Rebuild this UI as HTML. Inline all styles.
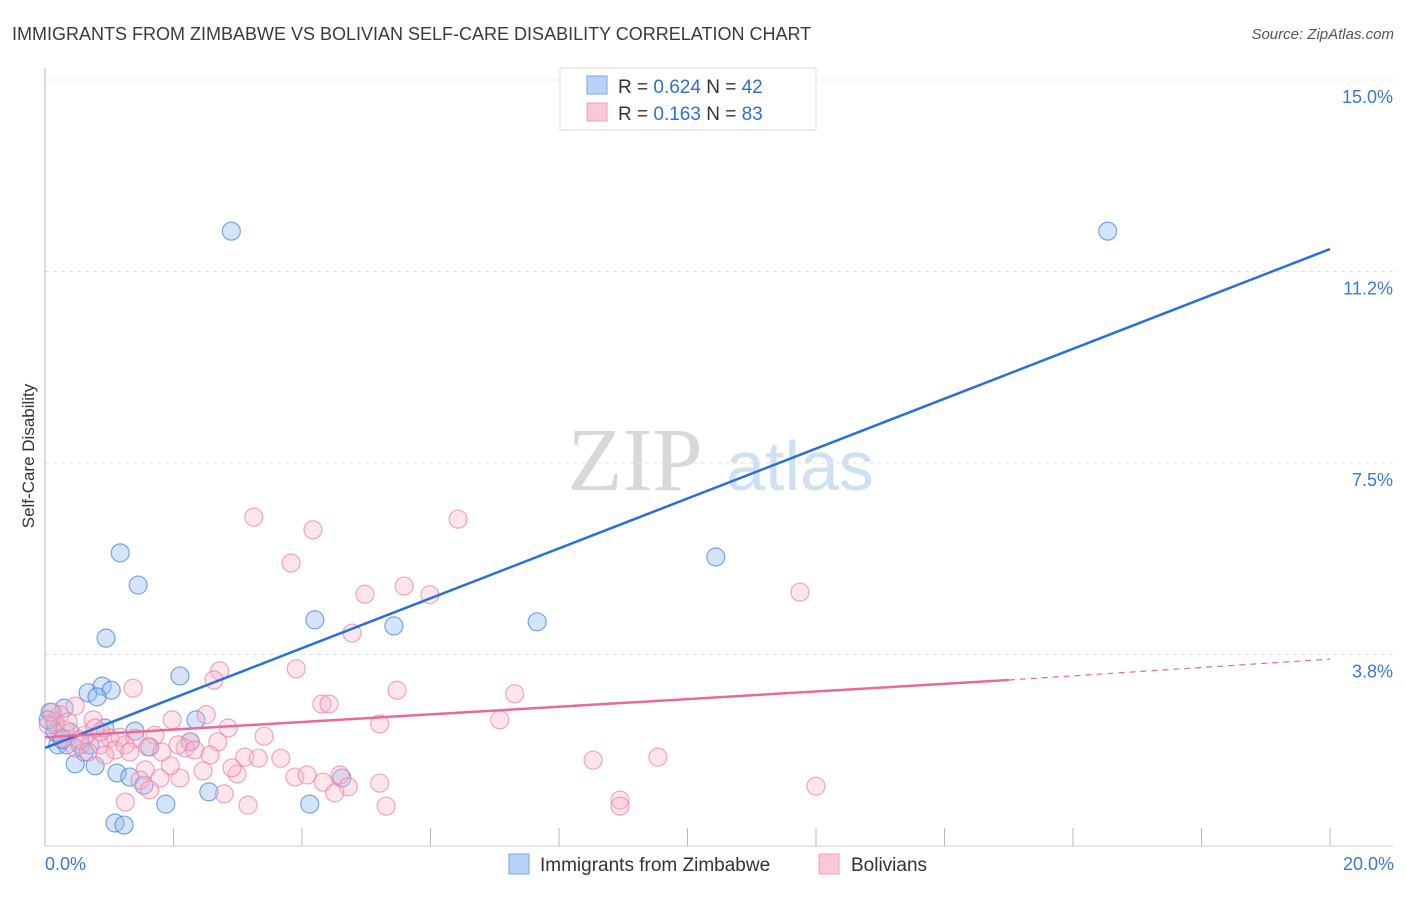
<!DOCTYPE html>
<html><head><meta charset="utf-8"><style>
body{margin:0;background:#fff;font-family:"Liberation Sans",sans-serif}
</style></head><body>
<svg width="1406" height="892" xmlns="http://www.w3.org/2000/svg" font-family="Liberation Sans, sans-serif">
<text x="12" y="40" font-size="18" fill="#3a3a3a">IMMIGRANTS FROM ZIMBABWE VS BOLIVIAN SELF-CARE DISABILITY CORRELATION CHART</text>
<text x="1394" y="39" font-size="15" fill="#555" text-anchor="end" font-style="italic">Source: ZipAtlas.com</text>
<g><text x="635" y="490" font-size="90" fill="#d8d8d8" font-family="Liberation Serif, serif" text-anchor="middle">ZIP</text><text x="800" y="490" font-size="70" fill="#cfe0f3" text-anchor="middle">atlas</text></g>
<g id="grid"></g><g id="axes"></g><g id="marks"></g>
<text transform="translate(34,456) rotate(-90)" font-size="17" fill="#333" text-anchor="middle">Self-Care Disability</text>
<g>
<rect x="560" y="68" width="256" height="62" fill="#fff" stroke="#ddd"/>
<rect x="587" y="76" width="20" height="18" fill="#b8d3f7" stroke="#7aa6e6"/>
<rect x="587" y="103" width="20" height="18" fill="#fbc8d8" stroke="#f0a0b8"/>
<text x="618" y="93" font-size="19" fill="#333">R = <tspan fill="#2f6fd6">0.624</tspan>   N = <tspan fill="#2f6fd6">42</tspan></text>
<text x="618" y="120" font-size="19" fill="#333">R =  <tspan fill="#2f6fd6">0.163</tspan>   N = <tspan fill="#2f6fd6">83</tspan></text>
</g>
<g>
<rect x="509" y="854" width="20" height="20" fill="#b8d3f7" stroke="#7aa6e6"/>
<text x="540" y="871" font-size="19" fill="#333">Immigrants from Zimbabwe</text>
<rect x="819" y="854" width="20" height="20" fill="#fbc8d8" stroke="#f0a0b8"/>
<text x="851" y="871" font-size="19" fill="#333">Bolivians</text>
</g>
</svg>
<script>
const xTicks=[0,2,4,6,8,10,12,14,16,18,20];
const yTicks=[3.75,7.5,11.25,15];
const yTickLabels=["3.8%","7.5%","11.2%","15.0%"];
const blueX=[2.90,16.54,1.17,1.45,10.44,0.95,4.20,5.43,7.66,2.10,0.67,0.89,1.03,0.81,0.30,0.08,0.16,0.39,0.93,1.40,2.35,1.63,2.26,0.20,0.34,0.55,0.61,0.47,0.78,1.12,1.32,1.54,1.88,2.55,4.12,4.62,1.09,1.23,0.16,0.05,0.27,0.70];
const blueY=[12.04,12.04,5.74,5.11,5.66,4.07,4.43,4.31,4.39,3.33,3.00,3.13,3.05,2.92,2.70,2.62,2.37,2.23,2.31,2.25,2.47,1.94,2.04,1.98,1.98,1.98,1.84,1.61,1.57,1.43,1.35,1.19,0.82,1.06,0.82,1.33,0.45,0.41,2.23,2.47,2.08,1.98];
const pinkX=[3.25,4.17,6.43,3.83,5.59,4.98,5.99,11.75,4.78,2.72,2.63,3.91,1.37,7.31,5.48,4.31,4.42,2.51,1.98,2.85,5.21,7.08,0.47,0.75,0.23,0.16,0.31,0.62,1.01,1.17,1.40,1.71,2.26,2.69,3.41,0.86,1.09,1.60,1.82,2.18,2.33,2.57,3.11,3.32,3.67,0.47,0.67,1.25,1.56,1.79,2.10,2.46,2.99,3.89,4.08,4.33,4.59,4.72,4.51,5.21,8.53,9.54,1.25,2.79,3.16,5.31,8.95,8.95,12.00,0.11,0.05,0.36,0.86,1.32,2.07,2.91,1.95,1.48,0.28,0.54,0.93,1.63,0.78];
const pinkY=[6.44,6.19,6.40,5.54,5.09,4.93,4.92,4.97,4.17,3.43,3.25,3.47,3.09,2.98,3.05,2.78,2.78,2.57,2.47,2.31,2.39,2.47,2.74,2.47,2.57,2.43,2.27,2.17,2.11,2.13,2.11,2.17,2.04,2.04,2.15,1.98,1.88,1.94,1.84,1.92,1.88,1.78,1.74,1.72,1.72,1.92,1.84,1.98,1.49,1.33,1.33,1.47,1.41,1.35,1.39,1.25,1.39,1.16,1.04,1.23,1.68,1.74,0.86,1.02,0.80,0.78,0.90,0.78,1.17,2.62,2.37,2.43,2.23,1.84,1.98,1.53,1.57,1.29,2.11,2.08,1.78,1.10,2.31];
const blueLine=[[0,1.92],[20,11.69]];
const pinkSolid=[[0,2.13],[15,3.25]];
const pinkDash=[[15,3.25],[20,3.66]];
const NS="http://www.w3.org/2000/svg";
const sx=v=>45+v/20*1285, sy=v=>846-v/3.75*191.5;
function mk(t,a,p){const e=document.createElementNS(NS,t);for(const k in a)e.setAttribute(k,a[k]);p.appendChild(e);return e;}
const grid=document.getElementById('grid'),axes=document.getElementById('axes'),marks=document.getElementById('marks');
yTicks.forEach((t,i)=>{const l=mk('line',{x1:45,x2:1393,y1:sy(t),y2:sy(t),stroke:'#e2e2e2','stroke-dasharray':'4,4'},grid);


const tx=mk('text',{x:1393,y:sy(t)+23,'font-size':18,fill:'#3a78d4','text-anchor':'end'},axes);tx.textContent=yTickLabels[i];

});
const ax=mk('line',{x1:45,x2:45,y1:68,y2:846,stroke:'#bbb'},axes);


const bx=mk('line',{x1:45,x2:1393,y1:846,y2:846,stroke:'#ccc'},axes);


xTicks.forEach(t=>{const l=mk('line',{x1:sx(t),x2:sx(t),y1:828,y2:846,stroke:'#bbb'},axes);

});
[[0,"0.0%","start",45],[20,"20.0%","end",1394]].forEach(d=>{const tx=mk('text',{x:d[3],y:870,'font-size':18,fill:'#3a78d4','text-anchor':d[2]},axes);tx.textContent=d[1];

});
blueX.forEach((v,i)=>{const c=mk('circle',{cx:sx(v),cy:sy(blueY[i]),r:9,fill:'rgba(150,190,240,0.4)',stroke:'rgba(70,130,220,0.7)','stroke-width':1.2},marks);

});
pinkX.forEach((v,i)=>{const c=mk('circle',{cx:sx(v),cy:sy(pinkY[i]),r:9,fill:'rgba(248,180,200,0.35)',stroke:'rgba(235,130,165,0.7)','stroke-width':1.2},marks);

});
const bl=mk('line',{x1:sx(blueLine[0][0]),y1:sy(blueLine[0][1]),x2:sx(blueLine[1][0]),y2:sy(blueLine[1][1]),stroke:'#2a6fd8','stroke-width':2.5},marks);


const pl=mk('line',{x1:sx(pinkSolid[0][0]),y1:sy(pinkSolid[0][1]),x2:sx(pinkSolid[1][0]),y2:sy(pinkSolid[1][1]),stroke:'#e8699a','stroke-width':2.5},marks);


const pd=mk('line',{x1:sx(pinkDash[0][0]),y1:sy(pinkDash[0][1]),x2:sx(pinkDash[1][0]),y2:sy(pinkDash[1][1]),stroke:'#e8699a','stroke-width':1.2,'stroke-dasharray':'6,5'},marks);


</script>
</body></html>
